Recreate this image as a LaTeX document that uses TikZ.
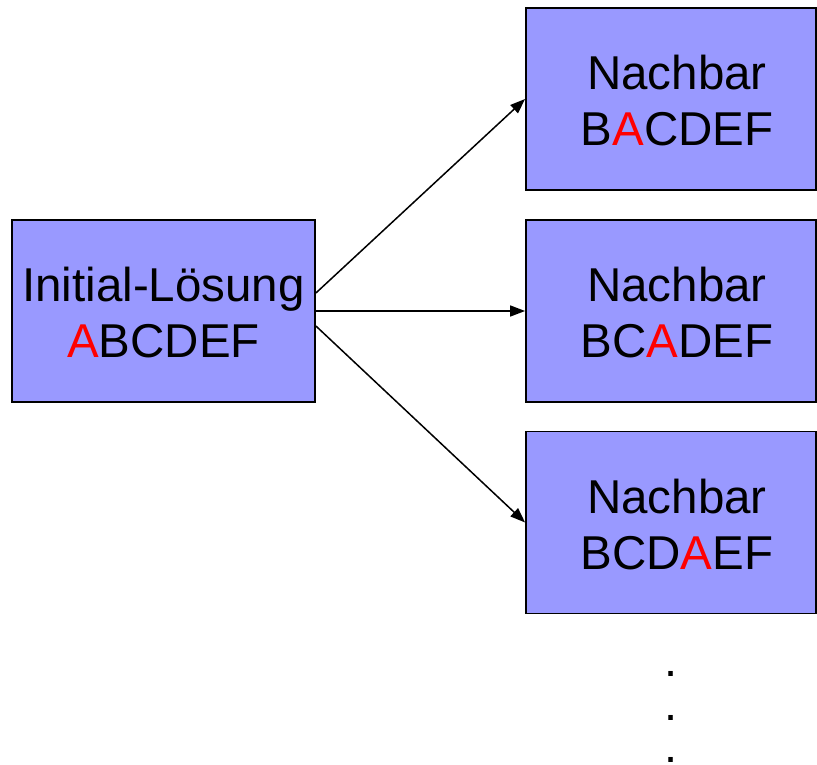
\documentclass[tikz,border=0pt]{standalone}
\usepackage{fontspec}
\setmainfont{Liberation Sans}
\usetikzlibrary{arrows.meta}
\definecolor{boxblue}{HTML}{9999FF}
\begin{document}
\begin{tikzpicture}[x=1pt,y=-1pt,
  box/.style={draw=black, line width=1.8pt, fill=boxblue, inner sep=0pt, minimum height=182pt},
  lbl/.style={align=center, inner sep=0pt, font=\fontsize{47.5}{56}\selectfont},
  dotlbl/.style={inner sep=0pt, font=\fontsize{47}{56}\selectfont},
  arr/.style={line width=1.5pt, -{Stealth[length=15pt,width=11pt,inset=0pt]}}]
\useasboundingbox (0,0) rectangle (817,765);
\node[box, minimum width=303pt] (init) at (163.5,311) {};
\node[box, minimum width=290pt] (n1) at (671,99) {};
\node[box, minimum width=290pt] (n2) at (671,311) {};
\node[box, minimum width=290pt] (n3) at (671,522.5) {};
\node[lbl] (tinit) at (163.5,313) {Initial-Lösung\\\textcolor{red}{A}BCDEF};
\node[lbl] (t1) at (677,101) {Nachbar\\B\textcolor{red}{A}CDEF};
\node[lbl] (t2) at (677,313) {Nachbar\\BC\textcolor{red}{A}DEF};
\node[lbl] (t3) at (677,524.5) {Nachbar\\BCD\textcolor{red}{A}EF};
\draw[arr] ([yshift=18pt]init.east) -- (n1.west);
\draw[arr] (init.east) -- (n2.west);
\draw[arr] ([yshift=-15pt]init.east) -- (n3.west);
\node[dotlbl] (d1) at (671,674) {.};
\node[dotlbl] (d2) at (671,718) {.};
\node[dotlbl] (d3) at (671,760) {.};
\end{tikzpicture}
\end{document}
